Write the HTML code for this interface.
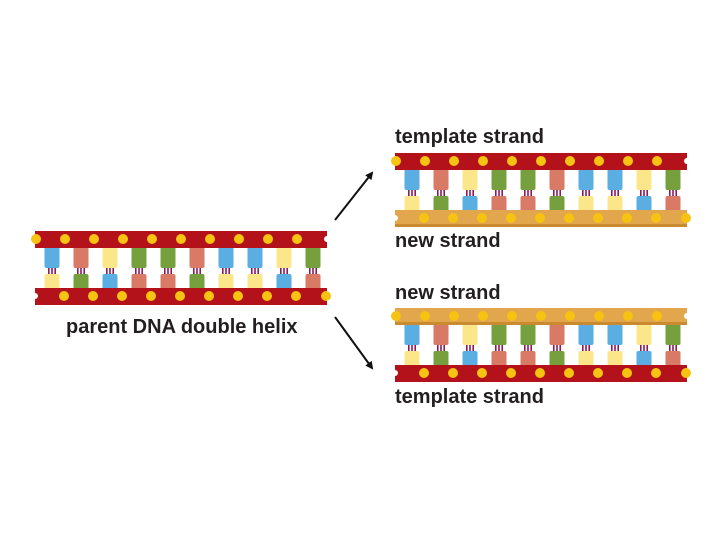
<!DOCTYPE html>
<html><head><meta charset="utf-8"><style>
html,body{margin:0;padding:0;background:#fff}
svg{display:block}
text{font-family:"Liberation Sans",sans-serif;font-weight:bold;fill:#231f20}
</style></head><body>
<svg width="720" height="540" viewBox="0 0 720 540" xmlns="http://www.w3.org/2000/svg">
<defs>
<g id="ln"><rect x="-4" y="36" width="1.6" height="8" fill="#8a1a5a"/><rect x="-0.8" y="36" width="1.6" height="8" fill="#8a1a5a"/><rect x="2.4" y="36" width="1.6" height="8" fill="#8a1a5a"/></g>
<g id="bases">
<g transform="translate(17,0)"><use href="#ln"/><rect x="-7.5" y="16" width="15" height="21" rx="2" fill="#5aaee2"/><rect x="-7.5" y="43" width="15" height="16" rx="2" fill="#fbe78a"/></g>
<g transform="translate(46,0)"><use href="#ln"/><rect x="-7.5" y="16" width="15" height="21" rx="2" fill="#d87a66"/><rect x="-7.5" y="43" width="15" height="16" rx="2" fill="#76a03e"/></g>
<g transform="translate(75,0)"><use href="#ln"/><rect x="-7.5" y="16" width="15" height="21" rx="2" fill="#fbe78a"/><rect x="-7.5" y="43" width="15" height="16" rx="2" fill="#5aaee2"/></g>
<g transform="translate(104,0)"><use href="#ln"/><rect x="-7.5" y="16" width="15" height="21" rx="2" fill="#76a03e"/><rect x="-7.5" y="43" width="15" height="16" rx="2" fill="#d87a66"/></g>
<g transform="translate(133,0)"><use href="#ln"/><rect x="-7.5" y="16" width="15" height="21" rx="2" fill="#76a03e"/><rect x="-7.5" y="43" width="15" height="16" rx="2" fill="#d87a66"/></g>
<g transform="translate(162,0)"><use href="#ln"/><rect x="-7.5" y="16" width="15" height="21" rx="2" fill="#d87a66"/><rect x="-7.5" y="43" width="15" height="16" rx="2" fill="#76a03e"/></g>
<g transform="translate(191,0)"><use href="#ln"/><rect x="-7.5" y="16" width="15" height="21" rx="2" fill="#5aaee2"/><rect x="-7.5" y="43" width="15" height="16" rx="2" fill="#fbe78a"/></g>
<g transform="translate(220,0)"><use href="#ln"/><rect x="-7.5" y="16" width="15" height="21" rx="2" fill="#5aaee2"/><rect x="-7.5" y="43" width="15" height="16" rx="2" fill="#fbe78a"/></g>
<g transform="translate(249,0)"><use href="#ln"/><rect x="-7.5" y="16" width="15" height="21" rx="2" fill="#fbe78a"/><rect x="-7.5" y="43" width="15" height="16" rx="2" fill="#5aaee2"/></g>
<g transform="translate(278,0)"><use href="#ln"/><rect x="-7.5" y="16" width="15" height="21" rx="2" fill="#76a03e"/><rect x="-7.5" y="43" width="15" height="16" rx="2" fill="#d87a66"/></g>
</g>
<g id="tdots" fill="#f6c312"><circle cx="1" cy="8" r="5"/><circle cx="30" cy="8" r="5"/><circle cx="59" cy="8" r="5"/><circle cx="88" cy="8" r="5"/><circle cx="117" cy="8" r="5"/><circle cx="146" cy="8" r="5"/><circle cx="175" cy="8" r="5"/><circle cx="204" cy="8" r="5"/><circle cx="233" cy="8" r="5"/><circle cx="262" cy="8" r="5"/></g>
<g id="bdots" fill="#f6c312"><circle cx="29" cy="65" r="5"/><circle cx="58" cy="65" r="5"/><circle cx="87" cy="65" r="5"/><circle cx="116" cy="65" r="5"/><circle cx="145" cy="65" r="5"/><circle cx="174" cy="65" r="5"/><circle cx="203" cy="65" r="5"/><circle cx="232" cy="65" r="5"/><circle cx="261" cy="65" r="5"/><circle cx="291" cy="65" r="5"/></g>
<g id="topRed"><rect x="0" y="0" width="292" height="17" fill="#b3121b"/><circle cx="292" cy="8" r="3" fill="#fff"/><use href="#tdots"/></g>
<g id="topTan"><rect x="0" y="0" width="292" height="17" fill="#e2a64c"/><rect x="0" y="14" width="292" height="3" fill="#c98a30"/><circle cx="292" cy="8" r="3" fill="#fff"/><use href="#tdots"/></g>
<g id="botRed"><rect x="0" y="57" width="292" height="17" fill="#b3121b"/><circle cx="0" cy="65" r="3" fill="#fff"/><use href="#bdots"/></g>
<g id="botTan"><rect x="0" y="57" width="292" height="17" fill="#e2a64c"/><rect x="0" y="71" width="292" height="3" fill="#c98a30"/><circle cx="0" cy="65" r="3" fill="#fff"/><use href="#bdots"/></g>
<marker id="ah" markerWidth="8" markerHeight="8" refX="6" refY="4" orient="auto" markerUnits="userSpaceOnUse"><path d="M0,0 L8,4 L0,8 Z" fill="#111"/></marker>
</defs>

<g transform="translate(35,231)"><use href="#bases"/><use href="#topRed"/><use href="#botRed"/></g>
<g transform="translate(395,153)"><use href="#bases"/><use href="#topRed"/><use href="#botTan"/></g>
<g transform="translate(395,308)"><use href="#bases"/><use href="#topTan"/><use href="#botRed"/></g>

<line x1="335" y1="220" x2="372" y2="173" stroke="#111" stroke-width="2" marker-end="url(#ah)"/>
<line x1="335" y1="317" x2="372" y2="368" stroke="#111" stroke-width="2" marker-end="url(#ah)"/>

<text x="395" y="143" font-size="20">template strand</text>
<text x="395" y="247" font-size="20">new strand</text>
<text x="395" y="299" font-size="20">new strand</text>
<text x="395" y="403" font-size="20">template strand</text>
<text x="66" y="333" font-size="20">parent DNA double helix</text>
</svg>
</body></html>
